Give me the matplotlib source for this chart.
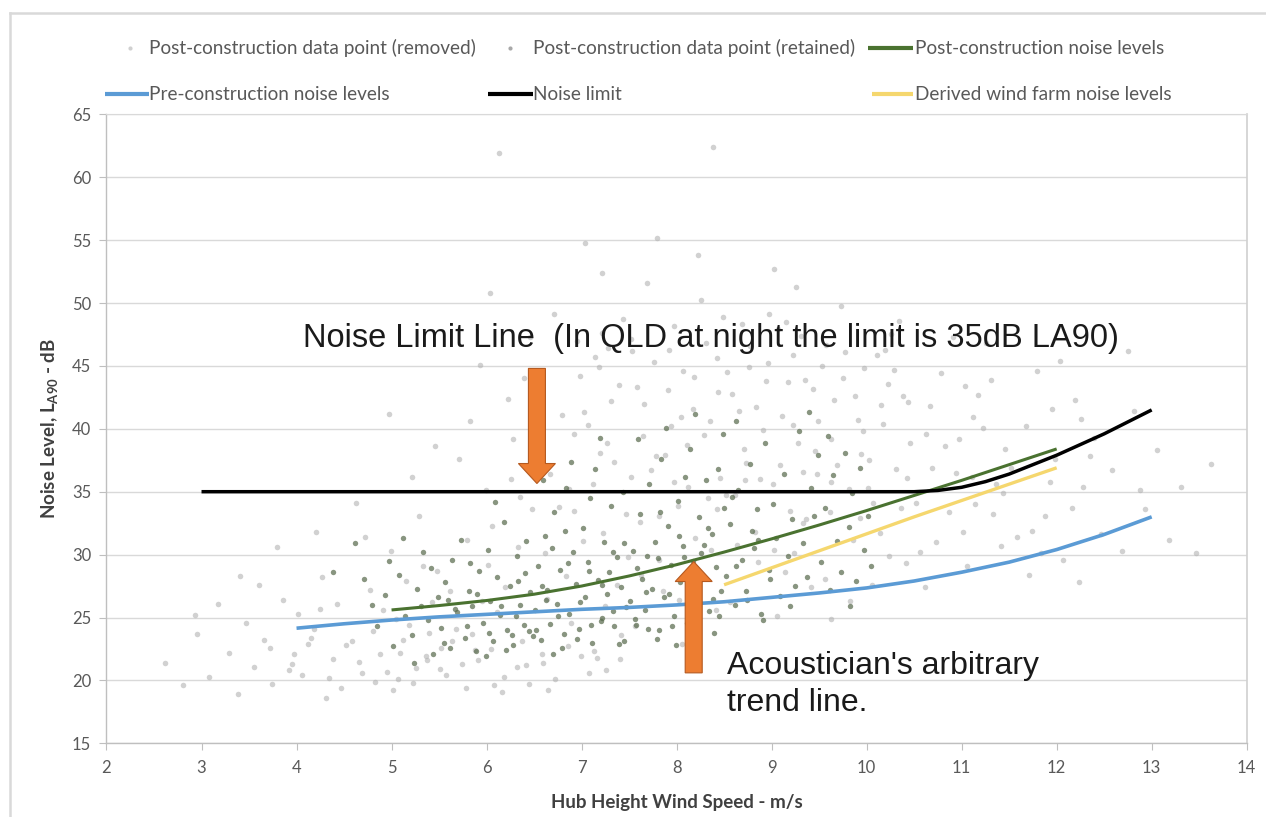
import matplotlib
matplotlib.use("Agg")
import matplotlib.pyplot as plt
from matplotlib.lines import Line2D
from matplotlib.patches import Polygon
from matplotlib.transforms import IdentityTransform
import numpy as np

# ---------------- data ----------------
removed_x = [2.62,2.81,2.95,3.08,3.17,3.29,3.38,3.47,3.41,2.93,
             3.55,3.66,3.74,3.86,3.97,4.06,4.18,4.27,4.38,4.47,3.79,4.21,4.43,4.02,4.31,3.61,4.12,3.92,
             4.58,4.69,4.77,4.88,4.99,5.07,5.18,5.29,5.37,5.48,4.72,5.02,5.21,5.43,4.91,5.33,5.12,4.63,5.46,4.97,5.26,4.83,5.39,5.15,
             5.57,5.68,5.79,5.88,5.99,6.08,6.19,6.28,6.37,6.48,5.71,6.02,6.23,6.41,5.93,6.11,6.33,5.62,6.46,6.04,6.16,5.83,6.13,5.52,6.26,5.95,6.39,5.74,
             6.58,6.67,6.79,6.89,6.98,7.08,7.19,7.28,7.37,7.47,6.71,7.01,7.22,6.92,7.41,7.12,6.62,7.31,7.04,6.84,7.16,6.53,7.44,6.76,7.25,6.95,7.34,6.64,7.07,6.87,7.49,7.18,
             7.56,7.65,7.76,7.86,7.97,8.06,8.17,8.26,8.36,8.46,7.69,8.01,8.22,7.91,8.41,8.11,7.61,8.31,8.38,7.82,8.14,7.53,8.44,7.73,8.24,7.94,8.33,7.63,8.07,7.88,8.49,8.19,7.79,8.02,
             8.56,8.66,8.77,8.86,8.97,9.06,9.17,9.26,9.36,9.46,8.69,9.01,9.22,8.91,9.41,9.11,8.61,9.31,8.82,9.14,8.53,9.44,8.73,9.24,8.94,9.33,8.64,9.07,8.88,9.49,9.19,9.03,
             9.56,9.66,9.77,9.86,9.97,10.06,10.17,10.26,10.36,10.46,9.69,10.01,10.22,9.91,10.41,10.11,9.61,10.31,9.82,10.14,9.53,10.44,9.73,10.24,9.94,10.34,9.63,10.07,
             10.56,10.67,10.78,10.87,10.97,11.06,11.17,11.26,11.36,11.46,10.69,11.01,11.22,10.91,11.41,11.11,10.61,11.31,10.83,11.14,
             11.58,11.68,11.79,11.88,11.98,12.07,12.19,12.28,12.39,12.47,11.71,12.03,12.24,11.93,
             12.58,12.69,12.81,12.93,13.06,13.18,13.31,13.47,13.62,12.75,
             7.03,7.14,7.27,7.39,7.52,7.66,7.78,7.92,8.05,8.18,8.29,8.43,8.58,8.71,8.84,8.96,9.09,9.23,9.35,9.48,
             9.62,9.75,9.88,10.02,10.15,10.29,10.42,7.21,7.58,7.97,8.35,8.76,9.15,9.57,9.96,10.38,8.52,9.28,9.81,10.19,
             3.72,3.95,4.15,4.34,4.52,4.66,4.81,4.95,5.09,5.23,5.36,5.51,5.64,5.78,5.91,6.05,6.18,6.32,6.45,6.59,
             6.72,6.86,6.99,7.13,7.26,7.4,4.25,5.05,5.85,6.65,
             6.06,6.35,6.63,6.92,7.23,7.52,7.81,8.12,8.43,8.72,9.02,9.33,9.62,9.93,10.52,10.73,10.94,11.12,11.33,11.52,
             11.74,11.95,12.16,12.35,10.63,11.04,11.44,11.84,12.26,12.88]
removed_y = [21.4,19.6,23.7,20.3,26.1,22.2,18.9,24.6,28.3,25.2,
             21.1,23.2,19.7,26.4,22.1,20.4,24.1,28.2,21.7,19.4,30.6,31.8,26.1,25.3,18.6,27.6,22.9,20.8,
             23.1,20.6,27.2,22.1,30.3,20.1,24.4,33.1,21.6,28.7,31.4,19.2,36.2,26.2,25.6,29.1,23.2,34.1,38.6,41.2,21.0,19.9,23.8,27.9,
             20.4,24.1,31.2,22.4,35.1,19.6,27.4,39.2,23.1,33.6,37.6,29.2,42.4,21.2,45.1,25.4,30.6,27.1,47.3,50.8,19.1,40.6,61.9,22.6,36.0,26.3,44.0,21.3,
             22.1,36.4,41.1,24.6,44.2,20.6,38.1,46.4,27.6,33.2,49.1,31.1,52.4,39.6,23.6,35.6,30.1,42.2,54.8,28.3,21.8,43.6,48.7,33.8,25.9,47.0,37.4,26.5,40.3,35.2,29.8,44.9,
             24.3,39.4,45.3,27.1,48.2,22.9,41.6,50.2,30.4,36.1,51.6,33.9,53.8,43.1,25.6,38.7,32.6,46.8,62.4,29.6,23.8,46.2,42.9,36.7,27.9,40.2,34.5,28.4,44.6,37.9,48.9,31.3,55.2,26.4,
             26.2,41.4,46.6,29.4,49.1,25.1,43.7,51.3,32.8,38.2,48.3,35.6,45.9,39.9,27.4,41.0,34.7,47.4,31.8,28.6,44.5,43.2,37.3,30.1,43.8,36.6,30.8,47.9,36.0,40.6,33.5,52.7,
             28.1,42.3,46.1,31.2,44.8,27.6,40.4,47.5,33.7,38.9,37.1,35.3,43.6,40.7,29.3,45.9,33.4,36.8,26.3,31.7,45.0,42.1,49.8,29.9,38.0,48.6,24.9,34.1,
             30.2,41.8,44.4,33.4,39.2,29.1,42.7,46.8,35.6,38.4,36.9,31.8,40.1,47.3,30.7,36.2,27.4,43.9,38.6,34.0,
             31.4,40.2,44.6,33.1,37.6,29.6,42.3,35.4,39.3,31.6,28.4,45.4,27.8,35.8,
             36.7,30.3,41.4,33.6,38.3,31.2,35.4,30.1,37.2,46.2,
             41.3,45.7,38.9,43.5,47.1,42.0,37.8,46.3,40.9,44.1,39.5,45.6,42.8,38.4,41.7,45.2,37.1,40.3,43.9,36.4,
             39.2,44.0,42.6,37.5,41.9,44.7,36.1,47.6,43.3,35.8,40.6,44.9,48.5,46.7,39.8,42.6,34.7,38.9,35.2,46.3,
             22.6,21.3,23.4,20.2,22.8,21.5,23.9,20.7,22.2,19.8,21.9,20.9,23.1,19.4,21.6,22.5,20.3,21.1,19.7,21.4,
             20.1,22.7,21.9,22.3,20.8,21.7,25.7,24.9,23.7,19.2,
             32.3,34.6,36.9,33.5,31.7,36.2,33.1,35.4,33.6,35.9,30.4,32.5,35.8,32.9,34.1,31.0,36.5,40.9,33.2,36.9,
             31.9,41.6,33.7,37.8,39.6,43.4,34.9,30.1,40.8,35.1]

retained_x = [4.38,4.71,4.62,4.85,4.93,5.02,5.08,5.14,5.21,5.27,5.33,5.38,5.44,5.49,4.97,5.12,5.24,5.41,4.79,5.31,
              5.52,5.56,5.61,5.64,5.69,5.73,5.77,5.81,5.85,5.89,5.92,5.96,6.01,6.04,6.07,6.11,6.14,6.18,6.21,6.25,
              6.28,6.32,6.35,6.39,6.42,6.46,6.49,5.59,5.83,6.09,6.31,5.99,
              6.51,6.54,6.57,6.61,6.64,6.67,6.71,6.74,6.77,6.81,6.84,6.87,6.91,6.94,6.97,7.01,7.04,7.07,7.11,7.14,
              7.17,7.21,7.24,7.27,7.31,7.34,7.37,7.41,7.44,7.47,6.59,6.89,7.19,6.79,7.09,7.39,6.69,7.29,
              7.51,7.54,7.57,7.61,7.64,7.67,7.71,7.74,7.77,7.81,7.84,7.87,7.91,7.94,7.97,8.01,8.04,8.07,8.11,8.14,
              8.17,8.21,8.24,8.27,8.31,8.34,8.37,8.41,8.44,8.47,7.59,7.89,8.19,7.79,8.09,8.39,7.69,8.29,7.99,8.49,
              8.52,8.56,8.61,8.65,8.69,8.73,8.77,8.81,8.85,8.89,8.93,8.97,9.01,9.05,9.09,9.13,9.17,9.21,9.25,9.29,
              9.33,9.37,9.41,9.45,9.49,8.63,8.91,9.19,8.79,9.39,
              9.52,9.56,9.61,9.65,9.69,9.73,9.77,9.81,9.85,9.89,9.93,9.97,10.01,10.05,9.59,9.83,
              5.55,5.67,5.79,5.9,6.03,6.15,6.27,6.4,6.52,6.63,6.75,6.86,6.98,7.1,7.22,7.33,7.45,7.56,7.68,7.8,
              7.92,8.03,8.15,8.26,8.38,8.5,8.62,8.74,8.86,8.98,
              6.2,6.45,6.7,6.95,7.2,7.45,7.7,7.95,8.2,8.45,6.33,6.58,6.83,7.08,7.33,7.58,7.83,8.08,8.33,8.58]
retained_y = [28.6,28.1,30.9,24.3,26.8,22.7,28.4,25.1,23.6,27.3,30.2,24.8,22.1,26.6,29.5,31.3,21.4,28.9,26.0,25.9,
              24.2,27.8,22.6,29.6,25.4,31.2,23.4,27.1,25.9,22.3,28.7,24.6,30.4,26.3,23.1,28.2,25.2,32.6,24.0,27.5,
              22.8,29.9,26.0,24.4,31.1,27.0,23.5,26.4,29.3,34.2,25.1,21.9,
              25.6,29.1,23.2,31.5,27.2,24.5,33.4,26.1,28.8,23.7,35.3,25.3,30.2,27.7,24.1,32.1,26.6,29.4,23.0,36.8,
              28.0,25.0,31.0,26.9,33.9,24.3,29.8,27.4,35.0,25.8,35.9,37.4,39.3,22.6,34.5,22.9,30.5,28.6,
              26.3,30.3,24.4,33.2,28.1,25.6,35.6,27.3,31.0,24.0,37.6,26.6,32.3,29.2,25.1,34.3,27.8,30.7,24.6,38.4,
              29.5,26.2,33.0,28.4,35.9,25.5,31.6,29.0,36.8,27.1,39.2,40.1,41.2,23.3,36.2,23.8,29.9,30.8,22.8,39.6,
              28.3,32.4,26.0,35.1,29.6,27.1,37.2,30.5,33.6,25.3,38.9,28.8,34.0,31.3,26.7,36.4,29.9,32.8,27.5,39.8,
              30.9,28.2,35.3,33.1,37.9,40.6,24.8,25.9,31.9,41.3,
              29.4,33.7,27.2,36.3,31.1,28.6,38.1,32.2,34.9,27.9,36.9,30.4,33.1,29.1,39.4,25.9,
              23.0,25.7,24.3,26.9,23.8,25.9,23.6,28.5,24.0,26.4,25.1,29.3,26.2,24.4,27.6,25.5,30.9,24.9,27.0,29.7,
              26.9,31.5,27.4,30.1,26.5,33.7,29.1,26.4,31.2,28.1,
              22.4,23.9,22.1,23.3,24.7,23.1,24.1,24.3,25.8,25.1,27.9,27.5,31.9,28.7,30.2,28.9,33.4,29.8,32.1,34.6]

pre_x = [4, 4.5, 5, 5.5, 6, 6.5, 7, 7.5, 8, 8.5, 9, 9.5, 10, 10.5, 11, 11.5, 12, 12.5, 13]
pre_y = [24.15, 24.5, 24.8, 25.05, 25.25, 25.45, 25.65, 25.8, 26.0, 26.25, 26.6, 26.95,
         27.35, 27.9, 28.6, 29.4, 30.4, 31.6, 33.0]

post_x = [5, 5.5, 6, 6.5, 7, 7.5, 8, 8.5, 9, 9.5, 10, 10.5, 11, 11.5, 12]
post_y = [25.6, 25.95, 26.35, 26.85, 27.5, 28.3, 29.2, 30.2, 31.25, 32.35, 33.5, 34.7, 35.9, 37.15, 38.4]

limit_x = [3, 4, 5, 6, 7, 8, 9, 10, 10.5, 10.75, 11, 11.25, 11.5, 12, 12.5, 13]
limit_y = [35, 35, 35, 35, 35, 35, 35, 35, 35, 35.1, 35.35, 35.8, 36.4, 37.9, 39.6, 41.5]

derived_x = [8.5, 9, 9.5, 10, 10.5, 11, 11.5, 12]
derived_y = [27.6, 28.95, 30.3, 31.65, 33.0, 34.3, 35.6, 36.9]

x_ticks = list(range(2, 15))
y_ticks = list(range(15, 70, 5))

legend_labels = ["Post-construction data point (removed)",
                 "Post-construction data point (retained)",
                 "Post-construction noise levels",
                 "Pre-construction noise levels",
                 "Noise limit",
                 "Derived wind farm noise levels"]

note_limit = "Noise Limit Line  (In QLD at night the limit is 35dB LA90)"
note_trend1 = "Acoustician's arbitrary"
note_trend2 = "trend line."

assert len(removed_x) == len(removed_y)
assert len(retained_x) == len(retained_y)

# ---------------- style ----------------
W, H = 1266, 817
plt.rcParams['font.family'] = ['Lato', 'DejaVu Sans']
plt.rcParams['mathtext.fontset'] = 'custom'
plt.rcParams['mathtext.rm'] = 'Lato'
plt.rcParams['mathtext.bf'] = 'Lato:bold'

C_REMOVED = '#b3b3b3'
C_RETAINED = '#56684a'
C_POST = '#4a7230'
C_PRE = '#5b9bd5'
C_LIMIT = '#000000'
C_DERIVED = '#f5d76e'
C_TXT = '#595959'
C_GRID = '#d9d9d9'
C_ARROW = '#ed7d31'

fig = plt.figure(figsize=(W / 100, H / 100), dpi=100)
fig.patch.set_facecolor('white')

def fx(px):
    return px / W

def fy(py):
    return 1 - py / H

ax_l, ax_r, ax_t, ax_b = 106.5, 1246.7, 114.3, 743.3
ax = fig.add_axes([fx(ax_l), fy(ax_b), fx(ax_r - ax_l), (ax_b - ax_t) / H])
ax.set_xlim(2, 14)
ax.set_ylim(15, 65)

# scatter
ax.scatter(removed_x, removed_y, s=16, color=C_REMOVED, alpha=0.6, linewidths=0, zorder=2)
ax.scatter(retained_x, retained_y, s=15, color=C_RETAINED, alpha=0.7, linewidths=0, zorder=3)

# lines
ax.plot(pre_x, pre_y, color=C_PRE, lw=2.6, solid_capstyle='butt', zorder=4)
ax.plot(derived_x, derived_y, color=C_DERIVED, lw=2.4, solid_capstyle='butt', zorder=4)
ax.plot(post_x, post_y, color=C_POST, lw=2.2, solid_capstyle='butt', zorder=5)
ax.plot(limit_x, limit_y, color=C_LIMIT, lw=2.5, solid_capstyle='butt', zorder=5)

# axes styling
ax.set_xticks(x_ticks)
ax.set_yticks(y_ticks)
ax.yaxis.grid(True, color=C_GRID, lw=1.0)
ax.xaxis.grid(False)
ax.set_axisbelow(True)
for side in ['left', 'bottom']:
    ax.spines[side].set_color('#bfbfbf')
    ax.spines[side].set_linewidth(1.0)
ax.spines['top'].set_color(C_GRID)
ax.spines['right'].set_color('#d0d0d0')
ax.spines['right'].set_linewidth(1.2)
ax.tick_params(axis='both', direction='out', length=5, width=0.8, color='#bfbfbf',
               labelcolor=C_TXT, labelsize=12)
ax.tick_params(axis='y', pad=6)
ax.tick_params(axis='x', pad=7)

ax.set_xlabel("Hub Height Wind Speed - m/s", fontsize=13.5, fontweight='bold',
              color='#404040', labelpad=13)
ax.set_ylabel(r"Noise Level, L$_{\mathbf{A90}}$ - dB", fontsize=13.5, fontweight='bold',
              color='#404040', labelpad=8)

# annotations
ax.text(4.07, 46.5, note_limit, family=['Liberation Sans', 'DejaVu Sans'], fontsize=23.5,
        color='#1a1a1a', ha='left', va='baseline', zorder=7)
ax.text(8.527, 20.5, note_trend1, family=['Liberation Sans', 'DejaVu Sans'], fontsize=23,
        color='#1a1a1a', ha='left', va='baseline', zorder=7)
ax.text(8.527, 17.6, note_trend2, family=['Liberation Sans', 'DejaVu Sans'], fontsize=23,
        color='#1a1a1a', ha='left', va='baseline', zorder=7)

def block_arrow(x, y_tail, y_tip, shaft_px=17, head_px=37, head_len_px=20):
    tx, ty = ax.transData.transform((x, y_tip))
    _, by = ax.transData.transform((x, y_tail))
    d = np.sign(ty - by)
    hb = ty - d * head_len_px
    verts = [(tx - shaft_px / 2, by), (tx + shaft_px / 2, by), (tx + shaft_px / 2, hb),
             (tx + head_px / 2, hb), (tx, ty), (tx - head_px / 2, hb), (tx - shaft_px / 2, hb)]
    poly = Polygon(verts, closed=True, transform=IdentityTransform(), facecolor=C_ARROW,
                   edgecolor='#b5591f', lw=0.8, zorder=8, clip_on=False)
    fig.add_artist(poly)

block_arrow(6.53, 44.8, 35.65)
block_arrow(8.18, 20.6, 29.45)

# legend (manual, in figure pixels)
def leg_text(px, py, s):
    fig.text(fx(px), fy(py), s, fontsize=13.7, color=C_TXT, ha='left', va='center')

def leg_line(px0, px1, py, color, lw):
    fig.add_artist(Line2D([fx(px0), fx(px1)], [fy(py), fy(py)], transform=fig.transFigure,
                          color=color, lw=lw, solid_capstyle='butt'))

def leg_dot(px, py, color, size):
    fig.add_artist(Line2D([fx(px)], [fy(py)], transform=fig.transFigure, marker='o',
                          markersize=size, markerfacecolor=color, markeredgewidth=0, linestyle='none'))

r1, r2 = 48, 94
leg_dot(130, r1, '#d0d0d0', 3)
leg_text(149, r1, legend_labels[0])
leg_dot(510, r1, '#a8a8a8', 3)
leg_text(533, r1, legend_labels[1])
leg_line(868, 913, r1, C_POST, 3)
leg_text(915, r1, legend_labels[2])
leg_line(105, 149, r2, C_PRE, 3)
leg_text(149, r2, legend_labels[3])
leg_line(488, 533, r2, C_LIMIT, 3)
leg_text(533, r2, legend_labels[4])
leg_line(872, 913, r2, C_DERIVED, 3)
leg_text(915, r2, legend_labels[5])

# outer chart border
fig.add_artist(Line2D([fx(10), 1.0], [fy(13), fy(13)], transform=fig.transFigure,
                      color='#d9d9d9', lw=1.8))
fig.add_artist(Line2D([fx(10), fx(10)], [0.0, fy(13)], transform=fig.transFigure,
                      color='#d9d9d9', lw=1.8))

fig.savefig("out.png", dpi=100, facecolor='white')
